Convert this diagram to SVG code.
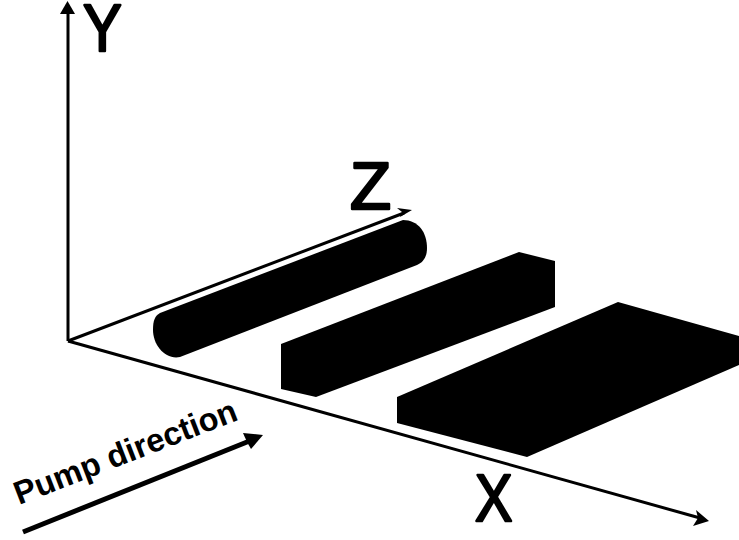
<svg xmlns="http://www.w3.org/2000/svg" width="739" height="540" viewBox="0 0 739 540">
<style>
.ax{fill:none;stroke:#000;stroke-width:3}
.solid{fill:#000}
.big{font-family:"Liberation Sans",Arial,sans-serif;font-size:66px;fill:#000;stroke:#000;stroke-width:2.500;stroke-linejoin:round}
.pump{font-family:"Liberation Sans",Arial,sans-serif;font-size:32.500px;font-weight:bold;fill:#000}
</style>
<rect width="739" height="540" fill="#fff"/>
<g id="connectors">
<path class="ax" d="M68 341V10"/>
<path class="solid" d="M67.500 1L75 14H60Z"/>
<path class="ax" d="M68 341L700 518"/>
<path class="solid" d="M709 521L693 526L698 518L696 510Z"/>
<path class="ax" d="M68 341L404 213"/>
<path class="solid" d="M412 210L400 217L402 212L397 208Z"/>
<path fill="none" stroke="#000" stroke-width="5" d="M23 532L252 440"/>
<path class="solid" d="M263 435L251 449L247 442L243 433Z"/>
</g>
<g id="cylinder"><path class="solid" d="M160 313L403 220C418 220 427 232 427 248C427 256 424 262 417 265L180 357C165 360 153 345 153 330C153 320 155 316 160 313Z"/></g>
<g id="box-narrow"><path class="solid" d="M281 344L519 252L555 261V307L316 397L281 389Z"/></g>
<g id="box-wide"><path class="solid" d="M397 397L618 302L739 336V365L527 457L397 423Z"/></g>
<g id="label-y"><text class="big" transform="translate(83 51) scale(.88 1)">Y</text></g>
<g id="label-x"><text class="big" transform="translate(475 521) scale(.85 1)">X</text></g>
<g id="label-z"><text class="big" transform="translate(350 209) scale(1.020 1)">Z</text></g>
<g id="label-pump"><text class="pump" transform="translate(19 505) rotate(-21.200)">Pump direction</text></g>
</svg>
